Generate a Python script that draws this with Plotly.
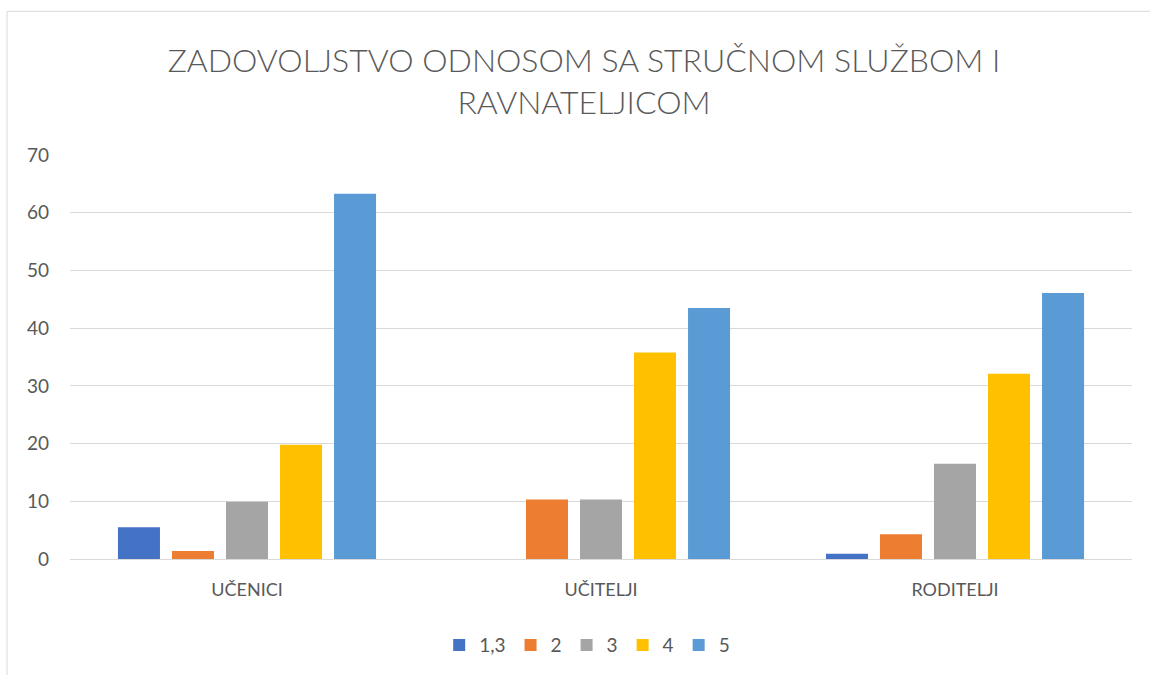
import plotly.graph_objects as go

categories = ["UČENICI", "UČITELJI", "RODITELJI"]
series_names = ["1,3", "2", "3", "4", "5"]
v_13 = [5.5, 0, 0.9]
v_2 = [1.4, 10.3, 4.3]
v_3 = [9.9, 10.3, 16.5]
v_4 = [19.8, 35.8, 32.1]
v_5 = [63.3, 43.5, 46.1]
series_values = [v_13, v_2, v_3, v_4, v_5]
colors = ["#4472C4", "#ED7D31", "#A5A5A5", "#FFC000", "#5B9BD5"]

fig = go.Figure()
for name, vals, col in zip(series_names, series_values, colors):
    fig.add_trace(go.Bar(x=categories, y=vals, name=name, marker_color=col,
                         marker_line_width=0))

fig.update_layout(
    width=1150, height=675,
    paper_bgcolor="white", plot_bgcolor="white",
    margin=dict(l=70, r=18, t=155, b=115),
    barmode="group", bargap=0.237, bargroupgap=0.222,
    font=dict(family="Lato, Open Sans, sans-serif", color="#595959", size=18),
    title=dict(
        text="ZADOVOLJSTVO ODNOSOM SA STRUČNOM SLUŽBOM I<br>RAVNATELJICOM",
        x=0.484, xanchor="center", xref="paper", y=0.893, yanchor="middle",
        font=dict(family="Lato, Open Sans, sans-serif", size=32, color="#595959", weight=300),
    ),
    legend=dict(orientation="h", x=0.487, xanchor="center", y=-0.21, yanchor="middle",
                font=dict(size=19, color="#595959"), itemwidth=30, traceorder="normal"),
    showlegend=True,
)
fig.update_xaxes(showgrid=False, showline=False, ticks="", ticklabelstandoff=18,
                 tickfont=dict(size=18, color="#595959"))
fig.update_yaxes(range=[0, 70], dtick=10, showgrid=True, gridcolor="#d9d9d9", gridwidth=1,
                 zeroline=True, zerolinecolor="#d9d9d9", zerolinewidth=1, showline=False,
                 ticklabelstandoff=20, tickfont=dict(size=19, color="#595959"))
fig.add_shape(type="rect", xref="paper", yref="paper", x0=-0.0593, y0=-0.3, x1=1.1, y1=1.3556,
              line=dict(color="#d9d9d9", width=1), fillcolor="rgba(0,0,0,0)", layer="below")

fig.write_html("out.html", config={"displayModeBar": False},
               post_script="document.body.style.margin='0';")
